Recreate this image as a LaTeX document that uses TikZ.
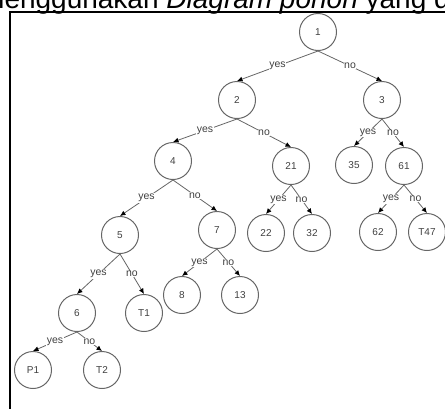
\documentclass[tikz,border=0pt]{standalone}
\usepackage{fontspec}
\setmainfont{Liberation Sans}
\usetikzlibrary{arrows.meta}
\begin{document}
\begin{tikzpicture}[x=1pt,y=-1pt,
  tnode/.style={circle,draw=black!60,line width=1pt,minimum size=37pt,inner sep=0pt,text=black!75,font=\fontsize{10}{12}\selectfont},
  edge/.style={draw=black!60,line width=0.8pt,-{Latex[length=5.5pt,width=5pt,color=black]}},
  lab/.style={fill=white,inner sep=0.6pt,text=black!75,font=\fontsize{10.5}{12}\selectfont}
]
\useasboundingbox (0,0) rectangle (445,408);
% heading fragment
\node[anchor=base west,inner sep=0pt,font=\fontsize{28}{30}\selectfont] (title) at (-19,8.5) {menggunakan \textit{Diagram pohon} yang da};
% frame
\draw[line width=2.3pt,line join=miter] (9.7,420) -- (9.7,12) -- (460,12);
% nodes
\node[tnode] (n1) at (318,32) {1};
\node[tnode] (n2) at (237,100) {2};
\node[tnode] (n3) at (382,100) {3};
\node[tnode] (n4) at (173,161) {4};
\node[tnode] (n21) at (291,166) {21};
\node[tnode] (n35) at (354,165) {35};
\node[tnode] (n61) at (404,166) {61};
\node[tnode] (n5) at (120,235) {5};
\node[tnode] (n7) at (217,230) {7};
\node[tnode] (n22) at (266,233) {22};
\node[tnode] (n32) at (312,233) {32};
\node[tnode] (n62) at (378,232) {62};
\node[tnode] (nT47) at (427,232) {T47};
\node[tnode] (n6) at (77,313) {6};
\node[tnode] (nT1) at (144,313) {T1};
\node[tnode] (n8) at (182,295) {8};
\node[tnode] (n13) at (240,295) {13};
\node[tnode] (nP1) at (33,370) {P1};
\node[tnode] (nT2) at (102,370) {T2};
% edges
\draw[edge] (n1.south) -- node[lab]{yes} (n2.north);
\draw[edge] (n1.south) -- node[lab]{no} (n3.north);
\draw[edge] (n2.south) -- node[lab]{yes} (n4.north);
\draw[edge] (n2.south) -- node[lab]{no} (n21.north);
\draw[edge] (n3.south) -- node[lab]{yes} (n35.north);
\draw[edge] (n3.south) -- node[lab]{no} (n61.north);
\draw[edge] (n4.south) -- node[lab]{yes} (n5.north);
\draw[edge] (n4.south) -- node[lab]{no} (n7.north);
\draw[edge] (n21.south) -- node[lab]{yes} (n22.north);
\draw[edge] (n21.south) -- node[lab]{no} (n32.north);
\draw[edge] (n61.south) -- node[lab]{yes} (n62.north);
\draw[edge] (n61.south) -- node[lab]{no} (nT47.north);
\draw[edge] (n5.south) -- node[lab]{yes} (n6.north);
\draw[edge] (n5.south) -- node[lab]{no} (nT1.north);
\draw[edge] (n7.south) -- node[lab]{yes} (n8.north);
\draw[edge] (n7.south) -- node[lab]{no} (n13.north);
\draw[edge] (n6.south) -- node[lab]{yes} (nP1.north);
\draw[edge] (n6.south) -- node[lab]{no} (nT2.north);
\end{tikzpicture}
\end{document}
